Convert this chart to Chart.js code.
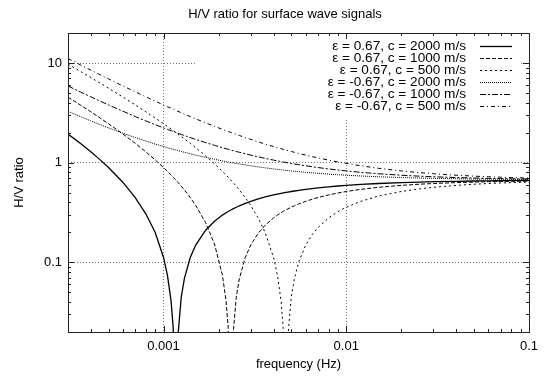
<!DOCTYPE html>
<html>
<head>
<meta charset="utf-8">
<script src="https://cdn.jsdelivr.net/npm/chart.js@4/dist/chart.umd.min.js"></script>
<style>
  html, body { margin: 0; padding: 0; background: #fff; }
</style>
</head>
<body>
<canvas id="hvChart" width="547" height="380"></canvas>
<script>
// frequency samples (Hz)
const frequencies = [0.0003, 0.00035, 0.0004, 0.00045, 0.0005, 0.0006, 0.0007, 0.0008, 0.0009, 0.001,
    0.00105, 0.0011, 0.00113, 0.001167, 0.0012, 0.00125, 0.0013, 0.0014, 0.0015, 0.0017,
    0.0019, 0.0021, 0.0022, 0.00226, 0.002333, 0.0024, 0.0025, 0.0026, 0.0028, 0.003,
    0.0033, 0.0036, 0.004, 0.0042, 0.0044, 0.00453, 0.004667, 0.0048, 0.005, 0.0052,
    0.0055, 0.006, 0.0065, 0.007, 0.008, 0.009, 0.01, 0.012, 0.015, 0.02,
    0.025, 0.03, 0.04, 0.05, 0.06, 0.07, 0.08, 0.1];

const hvPos2000 = [1.936, 1.563, 1.284, 1.067, 0.893, 0.633, 0.447, 0.307, 0.199, 0.112,
    0.0744, 0.0406, 0.0218, 0.0002, 0.0186, 0.0447, 0.0687, 0.1117, 0.1489, 0.2102,
    0.2586, 0.2978, 0.3147, 0.3241, 0.3349, 0.3443, 0.3573, 0.3694, 0.3908, 0.4094,
    0.4332, 0.4528, 0.4746, 0.4839, 0.4923, 0.4975, 0.5025, 0.5071, 0.5137, 0.5197,
    0.5279, 0.5397, 0.5497, 0.5583, 0.5723, 0.5832, 0.5918, 0.6049, 0.6179, 0.6309,
    0.6387, 0.6439, 0.6504, 0.6544, 0.657, 0.6588, 0.6602, 0.6622];

const hvPos1000 = [4.541, 3.797, 3.238, 2.804, 2.457, 1.936, 1.563, 1.284, 1.067, 0.893,
    0.819, 0.751, 0.7136, 0.67, 0.6326, 0.5807, 0.5326, 0.4467, 0.3722, 0.2497,
    0.1528, 0.0744, 0.0406, 0.0217, 0.0002, 0.0186, 0.0447, 0.0687, 0.1117, 0.1489,
    0.1965, 0.2358, 0.2792, 0.2978, 0.3147, 0.325, 0.335, 0.3443, 0.3573, 0.3694,
    0.3858, 0.4094, 0.4295, 0.4467, 0.4746, 0.4963, 0.5137, 0.5397, 0.5658, 0.5918,
    0.6075, 0.6179, 0.6309, 0.6387, 0.6439, 0.6477, 0.6504, 0.6544];

const hvPos500 = [9.752, 8.263, 7.147, 6.278, 5.583, 4.541, 3.797, 3.238, 2.804, 2.457,
    2.308, 2.172, 2.097, 2.01, 1.936, 1.831, 1.735, 1.563, 1.415, 1.169,
    0.9755, 0.819, 0.751, 0.7136, 0.67, 0.6326, 0.5807, 0.5326, 0.4467, 0.3722,
    0.2775, 0.1986, 0.1117, 0.0744, 0.0406, 0.0201, 0.0002, 0.0186, 0.0447, 0.0687,
    0.1015, 0.1489, 0.189, 0.2233, 0.2792, 0.3226, 0.3573, 0.4094, 0.4616, 0.5137,
    0.5449, 0.5658, 0.5918, 0.6075, 0.6179, 0.6253, 0.6309, 0.6387];

const hvNeg2000 = [3.276, 2.903, 2.624, 2.407, 2.233, 1.973, 1.787, 1.647, 1.538, 1.452,
    1.414, 1.381, 1.362, 1.34, 1.321, 1.295, 1.271, 1.228, 1.191, 1.13,
    1.081, 1.042, 1.025, 1.016, 1.005, 0.9957, 0.9827, 0.9706, 0.9492, 0.9306,
    0.9068, 0.8871, 0.8654, 0.8561, 0.8477, 0.8425, 0.8375, 0.8329, 0.8263, 0.8203,
    0.8121, 0.8003, 0.7903, 0.7817, 0.7677, 0.7568, 0.7482, 0.7351, 0.7221, 0.7091,
    0.7013, 0.6961, 0.6896, 0.6856, 0.683, 0.6812, 0.6798, 0.6778];

const hvNeg1000 = [5.881, 5.137, 4.578, 4.144, 3.797, 3.276, 2.903, 2.624, 2.407, 2.233,
    2.159, 2.091, 2.054, 2.01, 1.973, 1.921, 1.873, 1.787, 1.712, 1.59,
    1.493, 1.414, 1.381, 1.362, 1.34, 1.321, 1.295, 1.271, 1.228, 1.191,
    1.144, 1.104, 1.061, 1.042, 1.025, 1.015, 1.005, 0.9957, 0.9827, 0.9706,
    0.9542, 0.9306, 0.9105, 0.8933, 0.8654, 0.8437, 0.8263, 0.8003, 0.7742, 0.7482,
    0.7325, 0.7221, 0.7091, 0.7013, 0.6961, 0.6923, 0.6896, 0.6856];

const hvNeg500 = [11.09, 9.603, 8.487, 7.618, 6.923, 5.881, 5.137, 4.578, 4.144, 3.797,
    3.648, 3.512, 3.437, 3.35, 3.276, 3.171, 3.075, 2.903, 2.754, 2.509,
    2.316, 2.159, 2.091, 2.054, 2.01, 1.973, 1.921, 1.873, 1.787, 1.712,
    1.617, 1.538, 1.452, 1.414, 1.381, 1.36, 1.34, 1.321, 1.295, 1.271,
    1.238, 1.191, 1.151, 1.117, 1.061, 1.017, 0.9827, 0.9306, 0.8784, 0.8263,
    0.7951, 0.7742, 0.7482, 0.7325, 0.7221, 0.7147, 0.7091, 0.7013];

const seriesLabels = [
    "ε = 0.67, c = 2000 m/s",
    "ε = 0.67, c = 1000 m/s",
    "ε = 0.67, c = 500 m/s",
    "ε = -0.67, c = 2000 m/s",
    "ε = -0.67, c = 1000 m/s",
    "ε = -0.67, c = 500 m/s",
];
const xTicks = [0.001, 0.01, 0.1];
const xTickLabels = ["0.001", "0.01", "0.1"];
const yTicks = [0.1, 1, 10];
const yTickLabels = ["0.1", "1", "10"];

const FONT = "'Liberation Sans', Arial, Helvetica, sans-serif";
const dashes = [[], [4, 2], [2, 3], [1, 1], [6, 2, 2, 2], [4, 3, 1, 3]];
const widths = [1.3, 1, 1, 1, 1, 1];

function toPoints(values) {
    return frequencies.map(function (f, i) {
        return { x: f, y: values[i] };
    });
}

const allValues = [hvPos2000, hvPos1000, hvPos500, hvNeg2000, hvNeg1000, hvNeg500];
const datasets = allValues.map(function (vals, i) {
    return {
        label: seriesLabels[i],
        data: toPoints(vals),
        borderColor: "#000",
        borderWidth: widths[i],
        borderDash: dashes[i],
        pointRadius: 0,
        fill: false,
        clip: 0,
    };
});

// title, key box and gnuplot-like frame with inward ticks
const gnuplotLook = {
    id: "gnuplotLook",
    beforeDatasetsDraw(chart) {
        const a = chart.chartArea;
        const ctx = chart.ctx;
        ctx.save();
        ctx.fillStyle = "#fff";
        ctx.fillRect(196, a.top + 1, a.right - 10 - 196, 118 - a.top);
        ctx.restore();
    },
    afterDatasetsDraw(chart) {
        const a = chart.chartArea;
        const ctx = chart.ctx;
        const xs = chart.scales.x;
        const ys = chart.scales.y;
        ctx.save();

        // key
        ctx.font = "13.6px " + FONT;
        ctx.fillStyle = "#000";
        ctx.textAlign = "right";
        ctx.textBaseline = "middle";
        chart.data.datasets.forEach(function (ds, i) {
            const y = a.top + 13 + i * 12;
            ctx.fillText(ds.label, a.right - 63, y);
            ctx.beginPath();
            ctx.setLineDash(ds.borderDash);
            ctx.lineWidth = ds.borderWidth;
            ctx.strokeStyle = "#000";
            ctx.moveTo(a.right - 49, y + 0.5);
            ctx.lineTo(a.right - 17, y + 0.5);
            ctx.stroke();
        });
        ctx.setLineDash([]);

        // frame
        ctx.strokeStyle = "#222";
        ctx.lineWidth = 1;
        ctx.strokeRect(Math.round(a.left) + 0.5, Math.round(a.top) + 0.5,
            Math.round(a.right - a.left), Math.round(a.bottom - a.top));

        // ticks
        ctx.beginPath();
        [1e-4, 1e-3, 1e-2, 1e-1].forEach(function (d) {
            for (let m = 1; m <= 9; m++) {
                const v = m * d;
                if (v < xs.min || v > xs.max) continue;
                const px = Math.round(xs.getPixelForValue(v)) + 0.5;
                const len = m === 1 ? 6 : 3;
                ctx.moveTo(px, a.bottom);
                ctx.lineTo(px, a.bottom - len);
                ctx.moveTo(px, a.top);
                ctx.lineTo(px, a.top + len);
            }
        });
        [1e-2, 1e-1, 1, 10].forEach(function (d) {
            for (let m = 1; m <= 9; m++) {
                const v = m * d;
                if (v < ys.min || v > ys.max) continue;
                const py = Math.round(ys.getPixelForValue(v)) + 0.5;
                const len = m === 1 ? 6 : 3;
                ctx.moveTo(a.left, py);
                ctx.lineTo(a.left + len, py);
                ctx.moveTo(a.right, py);
                ctx.lineTo(a.right - len, py);
            }
        });
        ctx.stroke();

        // title
        ctx.font = "13px " + FONT;
        ctx.textAlign = "center";
        ctx.textBaseline = "middle";
        ctx.fillText("H/V ratio for surface wave signals", 285, 14);
        ctx.restore();
    },
};

const ctx = document.getElementById("hvChart").getContext("2d");
new Chart(ctx, {
    type: "line",
    data: { datasets: datasets },
    options: {
        responsive: false,
        animation: false,
        devicePixelRatio: 1,
        layout: { padding: { top: 33, right: 18, left: 0, bottom: 0 } },
        plugins: {
            legend: { display: false },
            tooltip: { enabled: false },
        },
        scales: {
            x: {
                type: "logarithmic",
                min: 0.0003,
                max: 0.1,
                afterBuildTicks: function (scale) {
                    scale.ticks = xTicks.map(function (v) { return { value: v }; });
                },
                afterFit: function (scale) { scale.height = 48; },
                ticks: {
                    padding: 7,
                    maxRotation: 0,
                    color: "#000",
                    font: { size: 13, family: FONT },
                    callback: function (value) {
                        const k = xTicks.indexOf(value);
                        return k >= 0 ? xTickLabels[k] : "";
                    },
                },
                grid: { color: "#777", drawTicks: false, lineWidth: 1 },
                border: { display: false, dash: [1, 2] },
                title: {
                    display: true,
                    text: "frequency (Hz)",
                    color: "#000",
                    font: { size: 13, family: FONT },
                    padding: { top: 0, bottom: 8 },
                },
            },
            y: {
                type: "logarithmic",
                min: 0.02,
                max: 20,
                afterBuildTicks: function (scale) {
                    scale.ticks = yTicks.map(function (v) { return { value: v }; });
                },
                afterFit: function (scale) { scale.width = 68; },
                ticks: {
                    padding: 6,
                    color: "#000",
                    font: { size: 13, family: FONT },
                    callback: function (value) {
                        const k = yTicks.indexOf(value);
                        return k >= 0 ? yTickLabels[k] : "";
                    },
                },
                grid: { color: "#777", drawTicks: false, lineWidth: 1 },
                border: { display: false, dash: [1, 2] },
                title: {
                    display: true,
                    text: "H/V ratio",
                    color: "#000",
                    font: { size: 13, family: FONT },
                    padding: { top: 12, bottom: 0 },
                },
            },
        },
    },
    plugins: [gnuplotLook],
});
</script>
</body>
</html>
